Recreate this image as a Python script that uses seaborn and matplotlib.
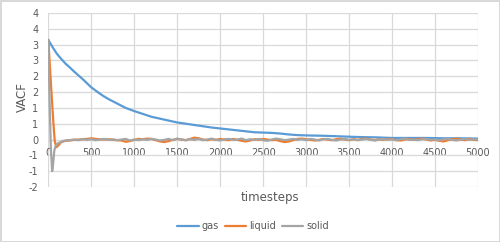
import numpy as np
import pandas as pd
import matplotlib
matplotlib.use("Agg")
import matplotlib.pyplot as plt
import seaborn as sns
from matplotlib.ticker import FuncFormatter, MultipleLocator

# ---------------- data ----------------
gas_t = [0, 50, 100, 150, 200, 250, 300, 350, 400, 450, 500, 550, 600, 650, 700,
         750, 800, 850, 900, 950, 1000, 1100, 1200, 1300, 1400, 1500, 1600, 1700,
         1800, 1900, 2000, 2100, 2200, 2300, 2400, 2500, 2600, 2700, 2800, 2900,
         3000, 3200, 3400, 3600, 3800, 4000, 4200, 4400, 4600, 4800, 5000]
gas_v = [3.15, 2.92, 2.71, 2.55, 2.40, 2.28, 2.15, 2.03, 1.91, 1.78, 1.65, 1.55,
         1.45, 1.36, 1.28, 1.21, 1.14, 1.07, 1.00, 0.95, 0.90, 0.81, 0.72, 0.66,
         0.60, 0.54, 0.50, 0.46, 0.42, 0.38, 0.35, 0.32, 0.29, 0.26, 0.23, 0.22,
         0.21, 0.19, 0.16, 0.14, 0.13, 0.12, 0.10, 0.08, 0.07, 0.05, 0.05, 0.05,
         0.04, 0.04, 0.03]

liquid_t = [0, 20, 40, 60, 75, 95, 120, 150] + list(range(200, 5001, 50))
liquid_v = [3.15, 2.25, 1.35, 0.50, -0.05, -0.24, -0.18, -0.08,
            -0.04, -0.03, -0.01, 0.00, 0.01, 0.02, 0.04, 0.02, 0.01, 0.00,
            0.01, -0.01, -0.02, -0.03, -0.07, -0.05, -0.01, 0.02, 0.01, 0.03,
            0.02, -0.02, -0.06, -0.08, -0.05, -0.01, 0.02, 0.00, -0.02, 0.02,
            0.06, 0.04, 0.00, -0.02, 0.01, -0.01, 0.02, 0.00, -0.02, 0.02,
            -0.01, -0.04, -0.06, -0.03, 0.01, -0.01, 0.02, 0.00, -0.02, -0.01,
            -0.05, -0.08, -0.06, -0.02, 0.02, 0.03, 0.01, -0.01, -0.03, -0.01,
            0.02, 0.00, -0.02, 0.01, 0.03, 0.00, -0.02, 0.01, -0.01, 0.02,
            0.03, 0.00, -0.02, 0.01, -0.01, 0.02, 0.01, -0.02, -0.03, 0.00,
            0.02, -0.01, 0.01, 0.03, 0.00, -0.03, -0.01, -0.04, -0.06, -0.02,
            0.01, 0.03, 0.00, -0.02, 0.02, -0.01, -0.02]

solid_t = [0, 15, 30, 45, 55, 70, 85, 110, 170] + list(range(200, 5001, 50))
solid_v = [3.15, 1.20, -0.30, -1.00, -0.80, -0.35, -0.20, -0.12, -0.05,
           -0.03, -0.02, 0.00, -0.02, 0.01, -0.01, 0.01, -0.02, 0.00, 0.02,
           -0.01, 0.01, -0.02, 0.00, 0.02, -0.03, 0.00, -0.02, 0.01, -0.01,
           0.02, 0.00, -0.03, -0.01, 0.02, -0.02, 0.03, 0.00, -0.02, 0.01,
           -0.01, 0.02, -0.02, 0.00, 0.03, -0.01, -0.03, 0.01, 0.02, -0.01,
           0.00, 0.03, -0.02, 0.01, -0.01, 0.02, -0.02, -0.04, 0.00, 0.03,
           0.01, -0.02, 0.00, 0.02, -0.01, 0.01, -0.02, 0.02, 0.00, -0.03,
           0.01, 0.02, -0.01, -0.03, 0.00, 0.02, -0.01, 0.01, -0.02, 0.00,
           0.02, -0.01, -0.03, 0.00, 0.02, -0.01, 0.01, -0.02, 0.01, 0.03,
           -0.01, 0.00, -0.02, 0.01, 0.02, -0.01, 0.00, -0.02, 0.01, 0.02,
           -0.01, -0.03, 0.00, 0.02, -0.01, 0.01, -0.01]

series_names = ["gas", "liquid", "solid"]
colors = ["#5B9BD5", "#ED7D31", "#A5A5A5"]
x_ticks = list(range(0, 5001, 500))

df = pd.concat([
    pd.DataFrame({"timesteps": gas_t, "VACF": gas_v, "series": "gas"}),
    pd.DataFrame({"timesteps": liquid_t, "VACF": liquid_v, "series": "liquid"}),
    pd.DataFrame({"timesteps": solid_t, "VACF": solid_v, "series": "solid"}),
], ignore_index=True)

# ---------------- style ----------------
sns.set_theme(style="white")
plt.rcParams["font.family"] = ["DejaVu Sans"]
txt = "#595959"
grid_c = "#D9D9D9"

fig = plt.figure(figsize=(5.0, 2.42), dpi=100)
fig.patch.set_facecolor("white")
fig.patch.set_edgecolor(grid_c)
fig.patch.set_linewidth(1.0)

L, R, T, B = 48.3, 478, 13, 187
ax = fig.add_axes([L / 500, 1 - B / 242, (R - L) / 500, (B - T) / 242])

sns.lineplot(data=df, x="timesteps", y="VACF", hue="series",
             hue_order=series_names, palette=colors, estimator=None,
             sort=False, linewidth=1.6, ax=ax, legend=True, zorder=3)

ax.set_xlim(0, 5000)
ax.set_ylim(-1.5, 4)
ax.set_xticks(x_ticks)
ax.yaxis.set_major_locator(MultipleLocator(0.5))


def yfmt(v, pos):
    r = int(np.sign(v) * np.floor(abs(v) + 0.5 + 1e-9))
    return str(r)


ax.yaxis.set_major_formatter(FuncFormatter(yfmt))
ax.grid(True, color=grid_c, linewidth=0.9, zorder=0)
ax.set_axisbelow(True)

for s in ["top", "right", "left"]:
    ax.spines[s].set_visible(False)
ax.spines["bottom"].set_position(("data", 0))
ax.spines["bottom"].set_color(grid_c)
ax.spines["bottom"].set_linewidth(0.9)

ax.tick_params(axis="x", length=0, pad=6, labelsize=7, labelcolor=txt)
ax.tick_params(axis="y", length=0, pad=7, labelsize=7, labelcolor=txt)

ax.set_xlabel("timesteps", fontsize=8.5, color=txt)
ax.set_ylabel("VACF", fontsize=8.5, color=txt)
ax.xaxis.set_label_coords((270 - L) / (R - L), (B - 197) / (B - T))
ax.yaxis.set_label_coords((22 - L) / (R - L), (B - 97) / (B - T))
ax.xaxis.label.set_va("center")
ax.yaxis.label.set_va("center")

handles, labels = ax.get_legend_handles_labels()
ax.get_legend().remove()
fig.legend(handles, labels, loc="center", bbox_to_anchor=(253 / 500, 1 - 226 / 242),
           ncol=3, frameon=False, fontsize=7, labelcolor=txt,
           handlelength=2.2, handletextpad=0.3, columnspacing=0.6)

fig.savefig("out.png", dpi=100, facecolor="white", edgecolor=grid_c)
